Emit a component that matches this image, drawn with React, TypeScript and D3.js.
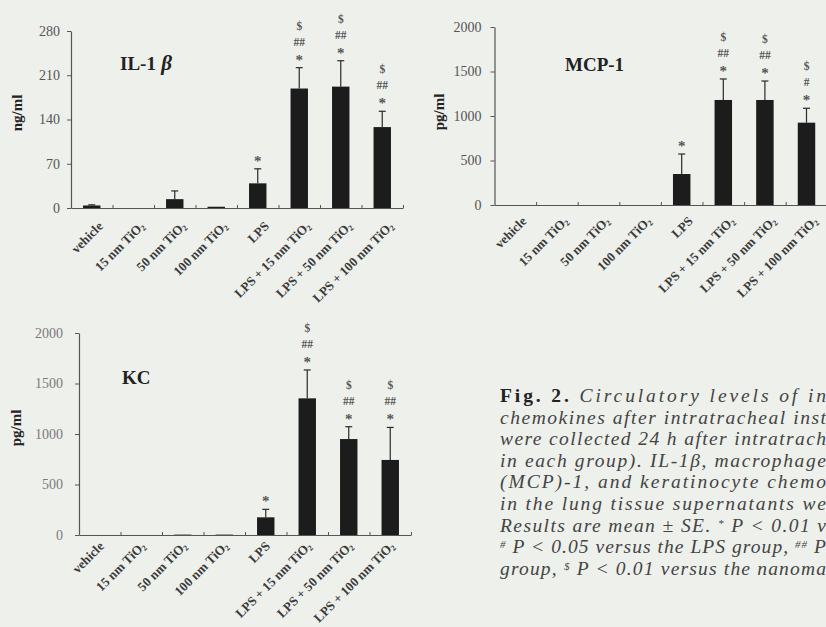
import * as d3 from "d3";
import {useEffect, useRef} from "react";

// groups on the x-axis
const categories = [
  "vehicle",
  "15 nm TiO2",
  "50 nm TiO2",
  "100 nm TiO2",
  "LPS",
  "LPS + 15 nm TiO2",
  "LPS + 50 nm TiO2",
  "LPS + 100 nm TiO2"
];

// IL-1 beta (ng/ml)
const il1bMean = [4, 0, 14, 2, 39, 189, 192, 128];
const il1bSe = [1, 0, 13, 0, 23, 33, 41, 25];
const il1bMarks = [[], [], [], [], ["*"], ["$", "##", "*"], ["$", "##", "*"], ["$", "##", "*"]];
const il1bTicks = [0, 70, 140, 210, 280];

// MCP-1 (pg/ml)
const mcpMean = [0, 0, 0, 0, 348, 1180, 1180, 925];
const mcpSe = [0, 0, 0, 0, 225, 236, 213, 162];
const mcpMarks = [[], [], [], [], ["*"], ["$", "##", "*"], ["$", "##", "*"], ["$", "#", "*"]];

// KC (pg/ml)
const kcMean = [0, 0, 4, 4, 175, 1353, 950, 743];
const kcSe = [0, 0, 0, 0, 79, 281, 122, 322];
const kcMarks = [[], [], [], [], ["*"], ["$", "##", "*"], ["$", "##", "*"], ["$", "##", "*"]];

const pgTicks = [0, 500, 1000, 1500, 2000];

// caption lines, as far as they show on the page
const captionLines = [
  [{t: "Fig. 2.", b: true}, {t: " Circulatory levels of in"}],
  [{t: "chemokines after intratracheal inst"}],
  [{t: "were collected 24 h after intratrach"}],
  [{t: "in each group). IL-1β, macrophage "}],
  [{t: "(MCP)-1, and keratinocyte chemo"}],
  [{t: "in the lung tissue supernatants we"}],
  [{t: "Results are mean ± SE. "}, {t: "*", sup: true}, {t: " P < 0.01 v"}],
  [{t: "#", sup: true}, {t: " P < 0.05 versus the LPS group, "}, {t: "##", sup: true}, {t: " P"}],
  [{t: "group, "}, {t: "$", sup: true}, {t: " P < 0.01 versus the nanoma"}]
];

const SERIF = "'Liberation Serif', 'Times New Roman', serif";
const INK = "#3a3a3a";

function addLabel(sel, label) {
  if (label.endsWith("TiO2")) {
    sel.append("tspan").text(label.slice(0, -1));
    sel.append("tspan").attr("font-size", "8px").attr("dy", "2").text("2");
  } else {
    sel.text(label);
  }
}

function drawPanel(svg, p) {
  const g = svg.append("g");
  const n = categories.length;

  const x = d3.scaleBand()
    .domain(categories)
    .range([p.left, p.left + p.step * n])
    .paddingInner(0.58)
    .paddingOuter(0.29);
  const y = d3.scaleLinear()
    .domain([0, p.ticks[p.ticks.length - 1]])
    .range([p.zero, p.top]);

  // y axis
  const yAxis = g.append("g")
    .attr("transform", "translate(" + p.left + ",0)")
    .call(d3.axisLeft(y).tickValues(p.ticks).tickFormat(d3.format("d"))
      .tickSize(4).tickSizeOuter(0).tickPadding(p.pad));
  yAxis.select(".domain").attr("stroke", "#555").attr("stroke-width", 1.2);
  yAxis.selectAll(".tick line").attr("stroke", "#555");
  yAxis.selectAll("text")
    .attr("font-family", SERIF)
    .attr("font-size", "14px")
    .attr("fill", p.tickColor);

  // x axis with ticks between groups
  const xb = d3.scaleLinear().domain([0, n]).range([p.left, p.left + p.step * n]);
  const xAxis = g.append("g")
    .attr("transform", "translate(0," + p.zero + ")")
    .call(d3.axisBottom(xb).tickValues(d3.range(1, n + 1)).tickFormat(() => "").tickSize(-3).tickSizeOuter(0));
  xAxis.select(".domain").attr("stroke", "#555").attr("stroke-width", 1.2);
  xAxis.selectAll(".tick line").attr("stroke", "#555");

  // bars
  g.selectAll("rect.bar")
    .data(p.mean)
    .enter()
    .append("rect")
      .attr("class", "bar")
      .attr("x", (d, i) => x(categories[i]))
      .attr("width", x.bandwidth())
      .attr("y", d => y(d))
      .attr("height", d => p.zero - y(d))
      .attr("fill", "#1c1c1c");

  // error bars
  p.mean.forEach((m, i) => {
    const se = p.se[i];
    if (!se) return;
    const cx = x(categories[i]) + x.bandwidth() / 2;
    g.append("line")
      .attr("x1", cx).attr("x2", cx)
      .attr("y1", y(m)).attr("y2", y(m + se))
      .attr("stroke", "#2a2a2a").attr("stroke-width", 1.2);
    g.append("line")
      .attr("x1", cx - 3.5).attr("x2", cx + 3.5)
      .attr("y1", y(m + se)).attr("y2", y(m + se))
      .attr("stroke", "#2a2a2a").attr("stroke-width", 1.2);
  });

  // significance marks, stacked above the error bar
  p.marks.forEach((list, i) => {
    const cx = x(categories[i]) + x.bandwidth() / 2;
    const top = y(p.mean[i] + p.se[i]);
    list.slice().reverse().forEach((m, k) => {
      const c = top - 10 - k * 16;
      g.append("text")
        .attr("x", cx)
        .attr("y", m === "*" ? c + 7 : c + 4)
        .attr("text-anchor", "middle")
        .attr("font-family", SERIF)
        .attr("font-weight", "bold")
        .attr("font-size", m === "*" ? "15px" : "11.5px")
        .attr("fill", "#555")
        .text(m);
    });
  });

  // group labels
  categories.forEach((c, i) => {
    const cx = x(c) + x.bandwidth() / 2;
    const t = g.append("text")
      .attr("transform", "translate(" + (cx + p.ldx) + "," + (p.zero + p.ldy) + ")rotate(-45)")
      .attr("text-anchor", "end")
      .attr("font-family", SERIF)
      .attr("font-weight", "bold")
      .attr("font-size", "13px")
      .attr("fill", INK);
    addLabel(t, c);
  });

  // unit label
  g.append("text")
    .attr("transform", "translate(" + p.unitX + "," + p.unitY + ")rotate(-90)")
    .attr("text-anchor", "middle")
    .attr("font-family", SERIF)
    .attr("font-weight", "bold")
    .attr("font-size", "15px")
    .attr("fill", "#222")
    .text(p.unit);

  // panel title
  const title = g.append("text")
    .attr("x", p.titleX)
    .attr("y", p.titleY)
    .attr("font-family", SERIF)
    .attr("font-weight", "bold")
    .attr("font-size", "19px")
    .attr("fill", "#222");
  title.append("tspan").text(p.title);
  if (p.titleGreek) {
    title.append("tspan").attr("font-style", "italic").attr("font-size", "21px").text(" " + p.titleGreek);
  }
}

function App() {
  const ref = useRef(null);

  useEffect(() => {
    document.body.style.margin = "0";
    const svg = d3.select(ref.current);
    svg.selectAll("*").remove();

    svg.append("rect").attr("width", 826).attr("height", 627).attr("fill", "#eef0ec");

    drawPanel(svg, {
      mean: il1bMean, se: il1bSe, marks: il1bMarks, ticks: il1bTicks,
      left: 71, step: 41.5, top: 31, zero: 208, pad: 7, tickColor: "#555",
      ldx: 12, ldy: 19, unit: "ng/ml", unitX: 22, unitY: 113,
      title: "IL-1", titleGreek: "β", titleX: 120, titleY: 70
    });
    drawPanel(svg, {
      mean: mcpMean, se: mcpSe, marks: mcpMarks, ticks: pgTicks,
      left: 494.5, step: 41.6, top: 27, zero: 205, pad: 9, tickColor: "#555",
      ldx: 12, ldy: 17, unit: "pg/ml", unitX: 444, unitY: 112,
      title: "MCP-1", titleX: 565, titleY: 71
    });
    drawPanel(svg, {
      mean: kcMean, se: kcSe, marks: kcMarks, ticks: pgTicks,
      left: 79, step: 41.5, top: 333, zero: 535, pad: 12, tickColor: "#7a7a7a",
      ldx: 5, ldy: 12, unit: "pg/ml", unitX: 21, unitY: 428,
      title: "KC", titleX: 122, titleY: 384
    });

    // figure caption
    captionLines.forEach((parts, i) => {
      const t = svg.append("text")
        .attr("x", 500)
        .attr("y", 402 + i * 21.6)
        .attr("font-family", SERIF)
        .attr("font-size", "19.5px")
        .attr("fill", "#444")
        .attr("textLength", 326)
        .attr("lengthAdjust", "spacing");
      parts.forEach(s => {
        const ts = t.append("tspan").text(s.t);
        if (s.b) ts.attr("font-weight", "bold").attr("fill", "#222");
        else ts.attr("font-style", "italic");
        if (s.sup) ts.attr("font-size", "11px").attr("dy", "-5");
        else if (s.t.startsWith(" P") && parts.some(q => q.sup)) ts.attr("dy", "5");
      });
    });
  });

  return (
    <svg ref={ref} width={826} height={627} style={{display: "block"}}></svg>
  );
}

export default App;
